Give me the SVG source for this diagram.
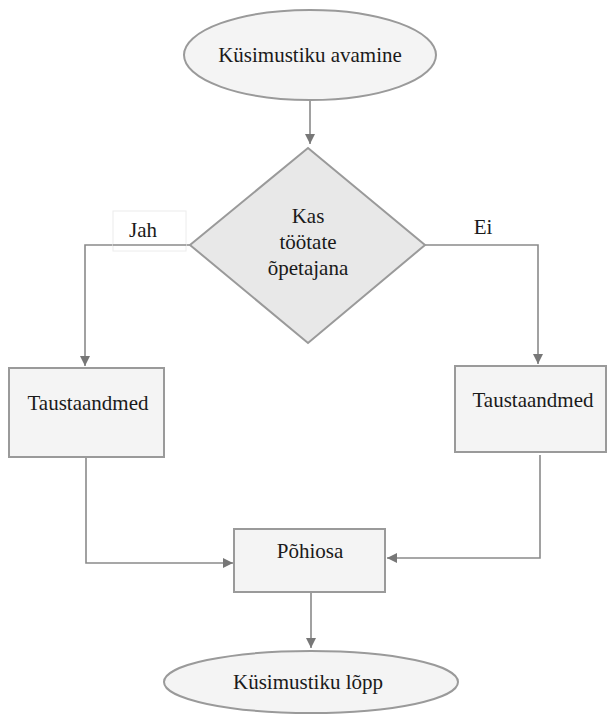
<svg xmlns="http://www.w3.org/2000/svg" width="608" height="715" viewBox="0 0 608 715">
<style>
.shape{fill:#f4f4f4;stroke:#9a9a9a;stroke-width:2}
.dia{fill:#e8e8e8;stroke:#9a9a9a;stroke-width:2}
.conn{fill:none;stroke:#8a8a8a;stroke-width:1.6}
</style>
<defs>
<marker id="ahb" viewBox="0 0 10 10" refX="10" refY="5" markerWidth="10" markerHeight="10" markerUnits="userSpaceOnUse" orient="auto">
<path d="M0,0 L10,5 L0,10 Z" fill="#777"/>
</marker>
</defs>
<g id="connectors">
<path class="conn" d="M310,100 V144" marker-end="url(#ahb)"/>
<path class="conn" d="M190,245 H85 V366" marker-end="url(#ahb)"/>
<path class="conn" d="M425,245 H538 V364" marker-end="url(#ahb)"/>
<path class="conn" d="M86,456 V563 H233" marker-end="url(#ahb)"/>
<path class="conn" d="M540,455 V558 H387" marker-end="url(#ahb)"/>
<path class="conn" d="M311,593 V648" marker-end="url(#ahb)"/>
</g>
<g font-family="'Liberation Serif','DejaVu Serif','Times New Roman',serif" font-size="21" fill="#1a1a1a" text-anchor="middle">
<g id="start">
<ellipse class="shape" cx="310" cy="55" rx="126" ry="45"/>
<text x="310" y="62">Küsimustiku avamine</text>
</g>
<g id="decision">
<polygon class="dia" points="308,148 425,245 308,343 190,245"/>
<text x="308" y="223">Kas</text>
<text x="308" y="249">töötate</text>
<text x="308" y="275">õpetajana</text>
</g>
<g id="label-jah">
<rect x="113" y="211" width="73" height="40" fill="#ffffff" stroke="#ececec" stroke-width="1"/>
<line x1="113" y1="245" x2="186" y2="245" stroke="#8a8a8a" stroke-width="1.6"/>
<text x="143" y="237">Jah</text>
</g>
<g id="label-ei">
<text x="483" y="234">Ei</text>
</g>
<g id="background-yes">
<rect class="shape" x="9" y="368" width="155" height="89"/>
<text x="88" y="410">Taustaandmed</text>
</g>
<g id="background-no">
<rect class="shape" x="455" y="366" width="151" height="86"/>
<text x="533" y="407">Taustaandmed</text>
</g>
<g id="main">
<rect class="shape" x="234" y="529" width="151" height="63"/>
<text x="310" y="558">Põhiosa</text>
</g>
<g id="end">
<ellipse class="shape" cx="311" cy="682" rx="147" ry="31"/>
<text x="308" y="689">Küsimustiku lõpp</text>
</g>
</g>
</svg>
